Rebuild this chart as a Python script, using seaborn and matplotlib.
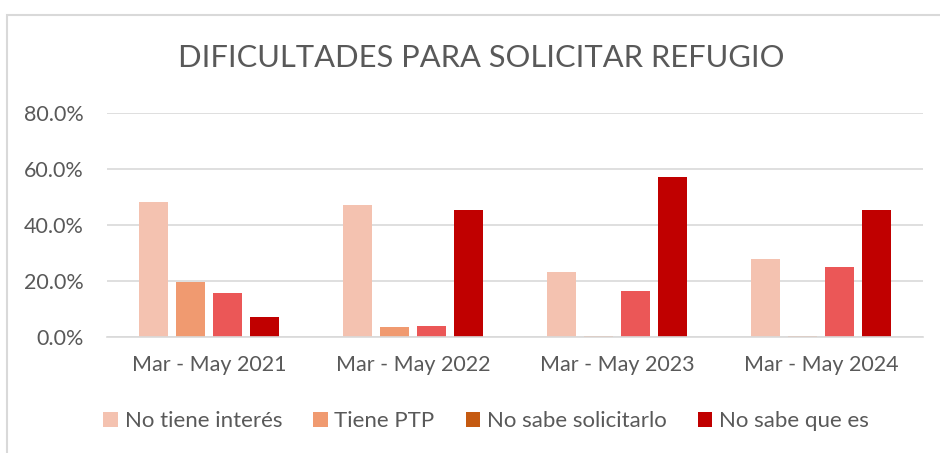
import matplotlib
matplotlib.use("Agg")
import matplotlib.pyplot as plt
import seaborn as sns
import pandas as pd
from matplotlib.patches import Patch, Rectangle
from matplotlib.ticker import FuncFormatter

categories = ["Mar - May 2021", "Mar - May 2022", "Mar - May 2023", "Mar - May 2024"]
series = ["No tiene interés", "Tiene PTP", "No sabe solicitarlo", "No sabe que es"]
no_tiene_interes = [0.482, 0.471, 0.233, 0.280]
tiene_ptp = [0.196, 0.036, 0.005, 0.005]
no_sabe_solicitarlo = [0.158, 0.038, 0.165, 0.251]
no_sabe_que_es = [0.071, 0.454, 0.571, 0.455]

bar_colors = ["#F4C2B0", "#F09A70", "#EB5757", "#C00000"]
legend_colors = ["#F4C2B0", "#F09A70", "#C55A11", "#C00000"]

rows = []
for name, vals in zip(series, [no_tiene_interes, tiene_ptp, no_sabe_solicitarlo, no_sabe_que_es]):
    for c, v in zip(categories, vals):
        rows.append({"cat": c, "serie": name, "val": v})
df = pd.DataFrame(rows)

sns.set_style("white")
plt.rcParams["font.family"] = ["Lato", "DejaVu Sans"]
text_color = "#595959"

fig = plt.figure(figsize=(9.4, 4.53), dpi=100)
ax = fig.add_axes([107/940, 1-337/453, (923-107)/940, (337-113)/453])

sns.barplot(data=df, x="cat", y="val", hue="serie", order=categories, hue_order=series,
            palette=bar_colors, width=0.725, gap=0.21, linewidth=0, ax=ax, errorbar=None,
            saturation=1)

ax.set_ylim(0, 0.8)
ax.set_xlim(-0.5, 3.5)
ax.set_yticks([0, 0.2, 0.4, 0.6, 0.8])
ax.yaxis.set_major_formatter(FuncFormatter(lambda v, p: f"{v*100:.1f}%"))
ax.grid(axis="y", color="#D9D9D9", linewidth=1.2)
ax.set_axisbelow(True)
for s in ["top", "right", "left"]:
    ax.spines[s].set_visible(False)
ax.spines["bottom"].set_color("#D9D9D9")
ax.spines["bottom"].set_linewidth(1.2)
ax.set_xlabel("")
ax.set_ylabel("")
ax.tick_params(axis="both", length=0, labelsize=15.5, colors=text_color)
ax.tick_params(axis="y", pad=17)
ax.tick_params(axis="x", pad=13)
ax.legend_.remove()

fig.text(481/940, 1-58/453, "DIFICULTADES PARA SOLICITAR REFUGIO", ha="center", va="center",
         fontsize=22.2, color=text_color)

handles = [Patch(facecolor=c, edgecolor="none") for c in legend_colors]
fig.legend(handles, series, loc="center", bbox_to_anchor=(486/940, 1-421/453), ncol=4,
           frameon=False, fontsize=16, labelcolor=text_color, handlelength=0.65,
           handleheight=0.65, handletextpad=0.3, columnspacing=1.4)

fig.patches.append(Rectangle((7.5/940, -0.1), 1.2, (1-14.5/453) + 0.1, transform=fig.transFigure,
                             fill=False, edgecolor="#D9D9D9", linewidth=1.5))

fig.savefig("out.png", dpi=100)
